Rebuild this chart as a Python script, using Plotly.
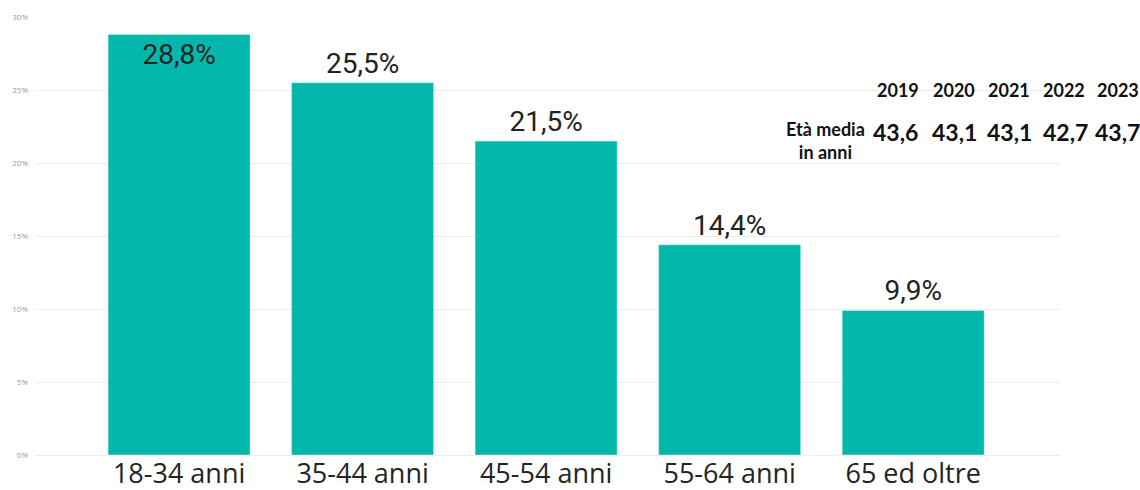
import plotly.graph_objects as go

categories = ["18-34 anni", "35-44 anni", "45-54 anni", "55-64 anni", "65 ed oltre"]
shares = [28.8, 25.5, 21.5, 14.4, 9.9]
label_positions = ["inside", "outside", "outside", "outside", "outside"]

years = ["2019", "2020", "2021", "2022", "2023"]
mean_age = [43.6, 43.1, 43.1, 42.7, 43.7]

y_ticks = [0, 5, 10, 15, 20, 25, 30]

W, H = 1140, 490
L, R, T, B = 35, 80, 17, 35

def fmt(v, suffix=""):
    return f"{v:.1f}".replace(".", ",") + suffix

fig = go.Figure(go.Bar(
    x=categories, y=shares,
    marker_color="#01B8AA",
    width=0.774,
    text=[fmt(v, "%") for v in shares],
    textposition=label_positions,
    insidetextanchor="end",
    textfont=dict(family="Roboto", size=28, color="#222222"),
    cliponaxis=False,
))

fig.update_layout(
    width=W, height=H,
    margin=dict(l=L, r=R, t=T, b=B, pad=0, autoexpand=False),
    paper_bgcolor="white", plot_bgcolor="white",
    showlegend=False,
    xaxis=dict(
        range=[-0.785, 4.80],
        tickfont=dict(family="Open Sans", size=27, color="#252423"),
        showgrid=False, zeroline=False, showline=False, ticks="",
        automargin=False,
    ),
    yaxis=dict(
        range=[0, 30],
        tickmode="array",
        tickvals=y_ticks,
        ticktext=[f"{t}%" for t in y_ticks],
        tickfont=dict(family="Open Sans", size=8, color="#9a9a9a"),
        showgrid=True, gridcolor="#eeeeee", gridwidth=1,
        zeroline=True, zerolinecolor="#eeeeee", zerolinewidth=1,
        showline=False, ticks="", ticklabelstandoff=6,
        automargin=False,
    ),
)

pw = W - L - R
ph = H - T - B
def px(xp):
    return (xp - L) / pw
def py(yp):
    return 1 - (yp - T) / ph

year_x = [898, 954, 1009, 1064, 1118]
for yr, xv in zip(years, year_x):
    fig.add_annotation(x=px(xv), y=py(90), xref="paper", yref="paper",
                       text=f"<b>{yr}</b>", showarrow=False,
                       font=dict(family="Lato", size=18, color="#111111"),
                       xanchor="center", yanchor="middle")
for v, xv in zip(mean_age, [895, 954, 1009, 1065, 1117]):
    fig.add_annotation(x=px(xv), y=py(132), xref="paper", yref="paper",
                       text=f"<b>{fmt(v)}</b>", showarrow=False,
                       font=dict(family="Lato", size=23, color="#111111"),
                       xanchor="center", yanchor="middle")
fig.add_annotation(x=px(825), y=py(140), xref="paper", yref="paper",
                   text="<b>Età media<br>in anni</b>", showarrow=False,
                   font=dict(family="Lato", size=18, color="#111111"),
                   xanchor="center", yanchor="middle", align="center")

fig.write_html(
    "out.html",
    config={"displayModeBar": False},
    post_script="document.body.style.margin='0';document.body.style.overflow='hidden';",
)
